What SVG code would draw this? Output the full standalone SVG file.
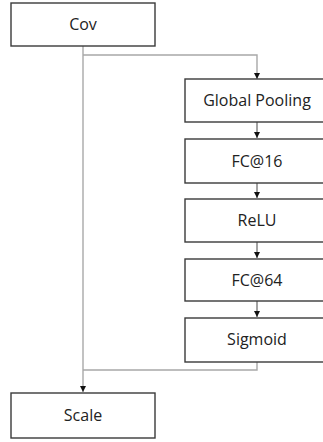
<svg xmlns="http://www.w3.org/2000/svg" width="323" height="442" viewBox="0 0 323 442">
<style>
.box{fill:#fff;stroke:#3a3a3a;stroke-width:1.4}
.lbl{font-family:"Open Sans","Noto Sans",sans-serif;font-size:16px;fill:#222;text-anchor:middle}
.con{fill:none;stroke:#a8a8a8;stroke-width:1.4}
.con2{fill:none;stroke:#666;stroke-width:1.2}
</style>
<defs>
<marker id="ah" viewBox="0 0 10 10" refX="10" refY="5" markerWidth="7" markerHeight="6" markerUnits="userSpaceOnUse" orient="auto">
<path d="M0,0 L10,5 L0,10 z" fill="#111"/>
</marker>
</defs>
<rect width="323" height="442" fill="#fff"/>
<g id="connectors">
<path class="con" d="M83,46 V392" marker-end="url(#ah)"/>
<path class="con" d="M83,55 H257 V79" marker-end="url(#ah)"/>
<path class="con" d="M257,362 V370 H83"/>
<path class="con2" d="M257,122 V138" marker-end="url(#ah)"/>
<path class="con2" d="M257,183 V198" marker-end="url(#ah)"/>
<path class="con2" d="M257,242 V258" marker-end="url(#ah)"/>
<path class="con2" d="M257,301 V317" marker-end="url(#ah)"/>
</g>
<g id="cov"><rect class="box" x="11" y="3" width="144" height="43"/><text class="lbl" x="83" y="30">Cov</text></g>
<g id="gp"><rect class="box" x="185" y="79" width="145" height="43"/><text class="lbl" x="257" y="106">Global Pooling</text></g>
<g id="fc16"><rect class="box" x="185" y="139" width="145" height="44"/><text class="lbl" x="257" y="167">FC@16</text></g>
<g id="relu"><rect class="box" x="185" y="199" width="145" height="43"/><text class="lbl" x="257" y="226">ReLU</text></g>
<g id="fc64"><rect class="box" x="185" y="259" width="145" height="42"/><text class="lbl" x="257" y="286">FC@64</text></g>
<g id="sigmoid"><rect class="box" x="185" y="318" width="145" height="44"/><text class="lbl" x="257" y="345">Sigmoid</text></g>
<g id="scale"><rect class="box" x="11" y="393" width="144" height="45"/><text class="lbl" x="83" y="421">Scale</text></g>
</svg>
